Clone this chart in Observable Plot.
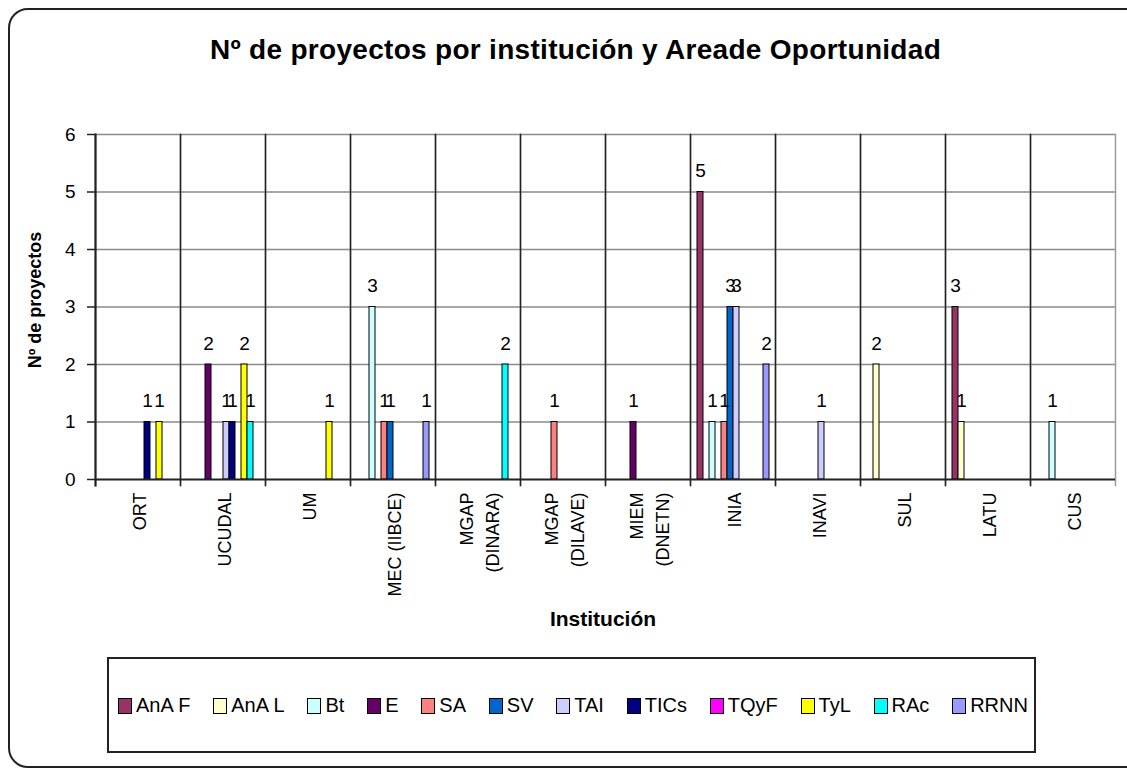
<!DOCTYPE html>
<html><head><meta charset="utf-8">
<script src="https://cdn.jsdelivr.net/npm/d3@7"></script>
<script src="https://cdn.jsdelivr.net/npm/@observablehq/plot@0.6"></script>
<style>
html,body{margin:0;padding:0;background:#fff;overflow:hidden;width:1127px;height:769px;font-family:"Liberation Sans",Arial,sans-serif;color:#000;}
#wrap{position:relative;width:1127px;height:769px;overflow:hidden;}
#border{position:absolute;left:8px;top:8px;width:1150px;height:760px;border:2px solid #222;border-radius:20px;box-sizing:border-box;}
#chart{position:absolute;left:0;top:0;}
#title{position:absolute;left:12px;width:1127px;top:32px;text-align:center;font-weight:bold;font-size:28px;line-height:36px;letter-spacing:0.3px;}
#ytitle{position:absolute;left:35px;top:300px;transform:translate(-50%,-50%) rotate(-90deg);font-weight:bold;font-size:18px;white-space:nowrap;}
#xtitle{position:absolute;left:603px;top:619px;transform:translate(-50%,-50%);font-weight:bold;font-size:21px;white-space:nowrap;}
#legend{position:absolute;left:107px;top:657px;width:929px;height:96px;border:2px solid #222;box-sizing:border-box;display:flex;align-items:center;justify-content:space-between;padding:0 6px 0 9px;font-size:20px;}
#legend .item{display:block;white-space:nowrap;flex:0 0 auto;line-height:20px;}
#legend .sw{display:inline-block;vertical-align:-2px;width:14px;height:16px;border:1.5px solid #000;margin-right:4px;box-sizing:border-box;}
</style>
</head><body>
<div id="wrap">
  <div id="chart"></div>
  <div id="border"></div>
  <div id="title"></div>
  <div id="ytitle"></div>
  <div id="xtitle"></div>
  <div id="legend"></div>
</div>
<script>
const titleText = "Nº de proyectos por institución y Areade Oportunidad";
const yTitle = "Nº de proyectos";
const xTitle = "Institución";
const institutions = ["ORT", "UCUDAL", "UM", "MEC (IIBCE)", "MGAP\n(DINARA)", "MGAP\n(DILAVE)", "MIEM\n(DNETN)", "INIA", "INAVI", "SUL", "LATU", "CUS"];
const series = ["AnA F", "AnA L", "Bt", "E", "SA", "SV", "TAI", "TICs", "TQyF", "TyL", "RAc", "RRNN"];
const colors = ["#993366", "#FFFFCC", "#CCFFFF", "#660066", "#FF8080", "#0066CC", "#CCCCFF", "#000080", "#FF00FF", "#FFFF00", "#00FFFF", "#9999FF"];
const yTicks = [0, 1, 2, 3, 4, 5, 6];
// values per series, one per institution (same order as institutions)
const anaF = [0, 0, 0, 0, 0, 0, 0, 5, 0, 0, 3, 0];
const anaL = [0, 0, 0, 0, 0, 0, 0, 0, 0, 2, 1, 0];
const bt   = [0, 0, 0, 3, 0, 0, 0, 1, 0, 0, 0, 1];
const e    = [0, 2, 0, 0, 0, 0, 1, 0, 0, 0, 0, 0];
const sa   = [0, 0, 0, 1, 0, 1, 0, 1, 0, 0, 0, 0];
const sv   = [0, 0, 0, 1, 0, 0, 0, 3, 0, 0, 0, 0];
const tai  = [0, 1, 0, 0, 0, 0, 0, 3, 1, 0, 0, 0];
const tics = [1, 1, 0, 0, 0, 0, 0, 0, 0, 0, 0, 0];
const tqyf = [0, 0, 0, 0, 0, 0, 0, 0, 0, 0, 0, 0];
const tyl  = [1, 2, 1, 0, 0, 0, 0, 0, 0, 0, 0, 0];
const rac  = [0, 1, 0, 0, 2, 0, 0, 0, 0, 0, 0, 0];
const rrnn = [0, 0, 0, 1, 0, 0, 0, 2, 0, 0, 0, 0];
const valuesBySeries = [anaF, anaL, bt, e, sa, sv, tai, tics, tqyf, tyl, rac, rrnn];

const rows = [];
series.forEach((s, si) => {
  valuesBySeries[si].forEach((v, ii) => {
    if (v > 0) rows.push({inst: institutions[ii], series: s, value: v});
  });
});

const font = "'Liberation Sans', Arial, sans-serif";
const plot = Plot.plot({
  width: 1127, height: 769,
  marginTop: 134, marginBottom: 290, marginLeft: 90, marginRight: 7,
  style: {fontFamily: font, fontSize: "18px", color: "#000", background: "transparent"},
  fx: {domain: institutions, padding: 0, axis: null, label: null},
  x: {domain: series, paddingInner: 0, paddingOuter: 0.35, axis: null},
  y: {domain: [0, 6], axis: null},
  color: {domain: series, range: colors},
  marks: [
    Plot.gridY(yTicks.slice(1), {stroke: "#8a8a8a", strokeOpacity: 1, strokeWidth: 1.5}),
    Plot.frame({anchor: "right", stroke: "#9a9a9a", strokeWidth: 1.5, insetBottom: -6}),
    Plot.frame({anchor: "left", stroke: "#222", strokeWidth: 1.5, insetBottom: -6}),
    Plot.barY(rows, {fx: "inst", x: "series", y: "value", fill: "series", stroke: "#000", strokeWidth: 1}),
    Plot.text(rows, {fx: "inst", x: "series", y: "value", text: d => String(d.value), dy: -21, fontSize: 19, fill: "#000"}),
    Plot.ruleY([0], {stroke: "#222", strokeWidth: 2}),
    Plot.frame({anchor: "left", facetAnchor: "left", stroke: "#222", strokeWidth: 2, insetBottom: -6}),
    Plot.axisY({ticks: yTicks, tickFormat: d3.format("d"), tickSize: 8, tickPadding: 12, fontSize: 19, label: null, stroke: "#222", strokeWidth: 1.5}),
    Plot.axisFx({anchor: "bottom", tickRotate: -90, tickSize: 0, tickPadding: 13, lineHeight: 1.45, fontSize: 18, label: null})
  ]
});
document.getElementById("chart").appendChild(plot);

document.getElementById("title").textContent = titleText;
document.getElementById("ytitle").textContent = yTitle;
document.getElementById("xtitle").textContent = xTitle;

const color = plot.scale("color");
const legend = d3.select("#legend");
series.forEach((s) => {
  const item = legend.append("div").attr("class", "item");
  item.append("span").attr("class", "sw").style("background-color", color.apply(s));
  item.append("span").text(s);
});
</script>
</body></html>
